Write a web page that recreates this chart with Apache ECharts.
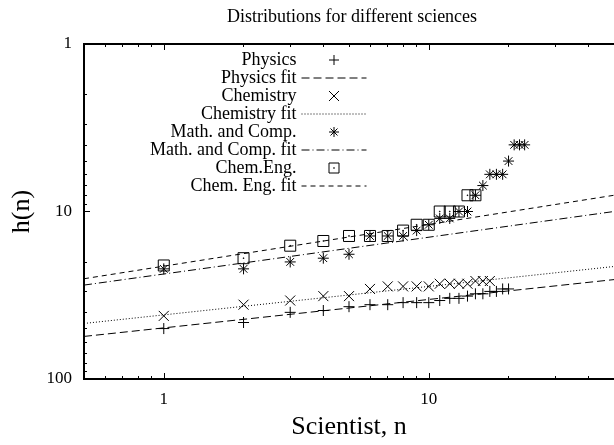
<!DOCTYPE html>
<html><head><meta charset="utf-8">
<script src="https://cdn.jsdelivr.net/npm/echarts@6/dist/echarts.min.js"></script>
<style>html,body{margin:0;padding:0;background:#fff}#c{width:614px;height:445px}</style>
</head><body><div id="c"></div>
<script>
// ---- data ----
const physicsN = [1,2,3,4,5,6,7,8,9,10,11,12,13,14,15,16,17,18,19,20];
const physicsH = [50,46,40,39,37,36,36,35,35,35,34,33,33,32,31,31,30,30,29,29];
const chemistryN = [1,2,3,4,5,6,7,8,9,10,11,12,13,14,15,16,17];
const chemistryH = [42,36,34,32,32,29,28,28,28,28,27,27,27,27,26,26,26];
const mathN = [1,2,3,4,5,6,7,8,9,10,11,12,13,14,15,16,17,18,19,20,21,22,23];
const mathH = [22,22,20,19,18,14,14,14,13,12,11,11,10,10,8,7,6,6,6,5,4,4,4];
const chemEngN = [1,2,3,4,5,6,7,8,9,10,11,12,13,14,15];
const chemEngH = [21,19,16,15,14,14,14,13,12,12,10,10,10,8,8];
// fit lines: end points read at n = 0.5 and n = 50
const fitN = [0.5, 50];
const physicsFitH = [55.7, 25.5];
const chemistryFitH = [46.6, 21.3];
const mathFitH = [27.5, 10.0];
const chemEngFitH = [25.2, 8.0];
// ticks
const xMajor = [1, 10];
const xMinor = [0.6,0.7,0.8,0.9,2,3,4,5,6,7,8,9,20,30,40,50];
const yMajor = [1, 10, 100];
const yMinor = [2,3,4,5,6,7,8,9,20,30,40,50,60,70,80,90];

const FONT = 'Liberation Serif';
const pairs = (a, b) => a.map((v, i) => [v, b[i]]);

const chart = echarts.init(document.getElementById('c'), null, {renderer: 'canvas'});

function xAx(pos, vals, len, labels, extra) {
  return Object.assign({
    type: 'log', logBase: 10, min: 0.5, max: 50, position: pos,
    axisLine: {show: true, onZero: false, lineStyle: {color: '#000', width: 2}},
    axisTick: {show: true, inside: true, length: len, customValues: vals, lineStyle: {color: '#000', width: 1}},
    axisLabel: labels ? {show: true, customValues: vals, margin: 12, fontSize: 17, fontFamily: FONT, color: '#000'} : {show: false},
    splitLine: {show: false}, minorTick: {show: false}
  }, extra || {});
}
function yAx(pos, vals, len, labels, extra) {
  return Object.assign({
    type: 'log', logBase: 10, min: 1, max: 100, inverse: true, position: pos,
    axisLine: {show: true, onZero: false, lineStyle: {color: '#000', width: 2}},
    axisTick: {show: true, inside: true, length: len, customValues: vals, lineStyle: {color: '#000', width: 1}},
    axisLabel: labels ? {show: true, customValues: vals, margin: 12, fontSize: 17, fontFamily: FONT, color: '#000'} : {show: false},
    splitLine: {show: false}, minorTick: {show: false}
  }, extra || {});
}

const SYM = {
  plus: 'path://M5,0L5,10M0,5L10,5',
  cross: 'path://M0,0L10,10M10,0L0,10',
  star: 'path://M5,0L5,10M0,5L10,5M1.5,1.5L8.5,8.5M8.5,1.5L1.5,8.5',
  box: 'path://M0,0L10,0L10,10L0,10ZM4.7,4.7L5.3,4.7L5.3,5.3L4.7,5.3Z'
};
function pts(name, n, h, sym, size) {
  return {
    name, type: 'scatter', xAxisIndex: 0, yAxisIndex: 0, data: pairs(n, h),
    symbol: sym, symbolSize: size,
    itemStyle: {color: 'rgba(0,0,0,0)', borderColor: '#000', borderWidth: 1, opacity: 1},
    emphasis: {disabled: true}, z: 3
  };
}
function fit(name, h, dash) {
  return {
    name, type: 'line', xAxisIndex: 0, yAxisIndex: 0, data: pairs(fitN, h),
    symbol: 'none', lineStyle: {color: '#000', width: 1, type: dash},
    itemStyle: {color: 'rgba(0,0,0,0)', borderWidth: 0},
    emphasis: {disabled: true}, z: 2
  };
}
const scatterLegend = name => ({name, itemStyle: {borderWidth: 1, borderColor: '#000', color: 'rgba(0,0,0,0)'}});
const fitLegend = name => ({name, itemStyle: {borderWidth: 0, color: 'rgba(0,0,0,0)', opacity: 0}});

chart.setOption({
  animation: false,
  backgroundColor: '#fff',
  title: {
    text: 'Distributions for different sciences', left: 227, top: 8, padding: 0,
    textStyle: {fontFamily: FONT, fontSize: 18, fontWeight: 'normal', color: '#000'}
  },
  grid: {left: 84, right: -6, top: 44, bottom: 57, containLabel: false},
  legend: {
    orient: 'vertical', align: 'right', right: 247, top: 51, padding: 0,
    itemWidth: 65, itemHeight: 10, itemGap: 0, selectedMode: false,
    textStyle: {fontFamily: FONT, fontSize: 18, color: '#000', lineHeight: 17.8},
    lineStyle: {width: 1},
    data: [scatterLegend('Physics'), fitLegend('Physics fit'), scatterLegend('Chemistry'), fitLegend('Chemistry fit'),
           scatterLegend('Math. and Comp.'), fitLegend('Math. and Comp. fit'), scatterLegend('Chem.Eng.'), fitLegend('Chem. Eng. fit')]
  },
  xAxis: [
    xAx('bottom', xMajor, 6, true, {name: 'Scientist, n', nameLocation: 'middle', nameGap: 35,
      nameTextStyle: {fontFamily: FONT, fontSize: 26, color: '#000'}}),
    xAx('bottom', xMinor, 3, false),
    xAx('top', xMajor, 6, false),
    xAx('top', xMinor, 3, false)
  ],
  yAxis: [
    yAx('left', yMajor, 6, true, {name: 'h(n)', nameLocation: 'middle', nameGap: 48,
      nameTextStyle: {fontFamily: FONT, fontSize: 26, color: '#000'}}),
    yAx('left', yMinor, 3, false)
  ],
  series: [
    pts('Physics', physicsN, physicsH, SYM.plus, 11),
    fit('Physics fit', physicsFitH, [8, 4]),
    pts('Chemistry', chemistryN, chemistryH, SYM.cross, 10),
    fit('Chemistry fit', chemistryFitH, [1, 2]),
    pts('Math. and Comp.', mathN, mathH, SYM.star, 11),
    fit('Math. and Comp. fit', mathFitH, [8, 3, 1, 3]),
    pts('Chem.Eng.', chemEngN, chemEngH, SYM.box, 11),
    fit('Chem. Eng. fit', chemEngFitH, [5, 4])
  ]
});
</script></body></html>
